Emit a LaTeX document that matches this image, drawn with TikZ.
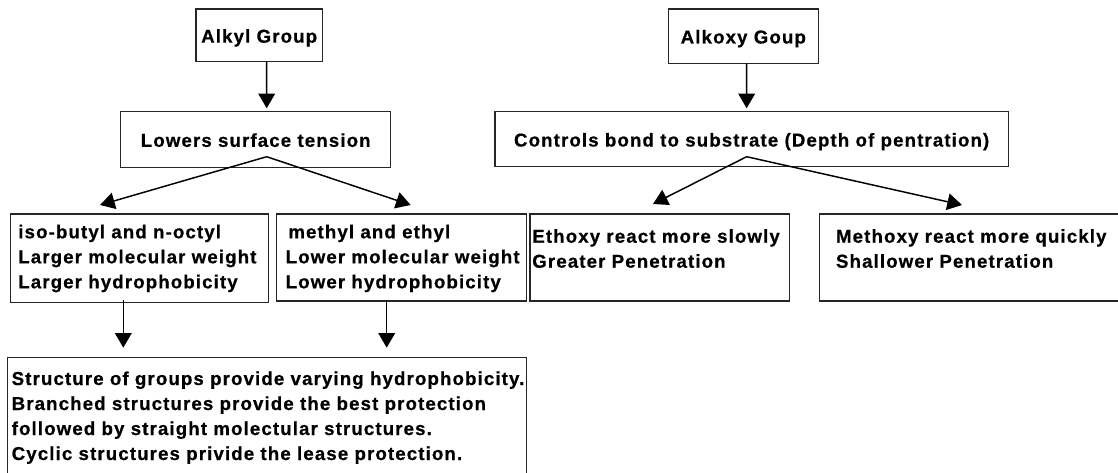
\documentclass[tikz,border=0pt]{standalone}
\usepackage{fontspec}
\newfontfamily\diafont{Liberation Sans Bold}[LetterSpace=6,FakeBold=0.6]
\usetikzlibrary{arrows.meta,calc}
\tikzset{
  boxline/.style={draw=black!85, line width=1.1pt, inner sep=0pt, outer sep=0pt},
  lbl/.style={font=\diafont\fontsize{14pt}{18.75pt}\selectfont, text height=11pt, text depth=0pt},
  para/.style={font=\diafont\fontsize{14pt}{18.75pt}\selectfont, align=left, inner sep=0pt, outer sep=0pt, anchor=north west},
  arr/.style={draw=black, line width=1.1pt, -{Triangle[length=11pt,width=12.5pt]}},
}
\begin{document}
\begin{tikzpicture}[x=0.75pt,y=-0.75pt]
\useasboundingbox (0,0) rectangle (1118,472);
\clip (0,0) rectangle (1118,472);
% boxes
\node[boxline,lbl,minimum width={126.3*0.75pt},minimum height={52.7*0.75pt}] (alkyl) at (259.15,35.35) {Alkyl Group};
\node[boxline,lbl,minimum width={150*0.75pt},minimum height={54.3*0.75pt}] (alkoxy) at (743.3,36.15) {Alkoxy Goup};
\node[boxline,lbl,minimum width={270*0.75pt},minimum height={55.6*0.75pt}] (lower) at (255.7,139.5) {Lowers surface tension};
\node[boxline,lbl,minimum width={513.3*0.75pt},minimum height={55*0.75pt}] (controls) at (751.65,139.2) {Controls bond to substrate (Depth of pentration)};
\node[boxline,minimum width={257.6*0.75pt},minimum height={88.7*0.75pt}] (iso) at (139.5,258.35) {};
\node[boxline,minimum width={250*0.75pt},minimum height={87*0.75pt}] (methyl) at (401.7,257.5) {};
\node[boxline,minimum width={259.3*0.75pt},minimum height={87*0.75pt}] (ethoxy) at (659.65,257.5) {};
\node[boxline,minimum width={310.7*0.75pt},minimum height={87*0.75pt}] (methoxy) at (974.65,257.5) {};
\node[boxline,minimum width={519.4*0.75pt},minimum height={122.7*0.75pt}] (bottom) at (267,418.65) {};
% texts
\node[para] (isoT) at (18.3,222.3) {\rule{0pt}{12pt}iso-butyl and n-octyl\\Larger molecular weight\\Larger hydrophobicity};
\node[para] (methylT) at (285.7,222.3) {\rule{0pt}{12pt}\kern2pt methyl and ethyl\\Lower molecular weight\\Lower hydrophobicity};
\node[para] (ethoxyT) at (532.3,226.7) {\rule{0pt}{12pt}Ethoxy react more slowly\\Greater Penetration};
\node[para] (methoxyT) at (836,226.7) {\rule{0pt}{12pt}Methoxy react more quickly\\Shallower Penetration};
\node[para] (bottomT) at (11.7,369) {\rule{0pt}{12pt}Structure of groups provide varying hydrophobicity.\\Branched structures provide the best protection\\followed by straight molectular structures.\\Cyclic structures privide the lease protection.};
% connector ends
\coordinate (t1) at ($(lower.north)+(11,-3.4)$);
\coordinate (t2) at ($(controls.north)+(-5,-3.4)$);
\coordinate (t3) at ($(iso.north)+(-39.5,-9)$);
\coordinate (t4) at ($(methyl.north)+(9,-9)$);
\coordinate (t5) at ($(ethoxy.north)+(-6.65,-10)$);
\coordinate (t6) at ($(methoxy.north)+(-12.65,-9)$);
\coordinate (t7) at ($(bottom.north)+(-143.7,-9.6)$);
\coordinate (t8) at ($(bottom.north)+(119.7,-9.6)$);
% connectors
\draw[arr] ($(alkyl.south)+(7.55,0)$) -- (t1);
\draw[arr] ($(alkoxy.south)+(3.4,0)$) -- (t2);
\draw[arr] ($(lower.south)+(11,-10.6)$) -- (t3);
\draw[arr] ($(lower.south)+(11,-10.6)$) -- (t4);
\draw[arr] ($(controls.south)+(-5,-10)$) -- (t5);
\draw[arr] ($(controls.south)+(-5,-10)$) -- (t6);
\draw[arr] ($(iso.south)+(-16.2,-2.7)$) -- (t7);
\draw[arr] ($(methyl.south)+(-15,-1)$) -- (t8);
\end{tikzpicture}
\end{document}
